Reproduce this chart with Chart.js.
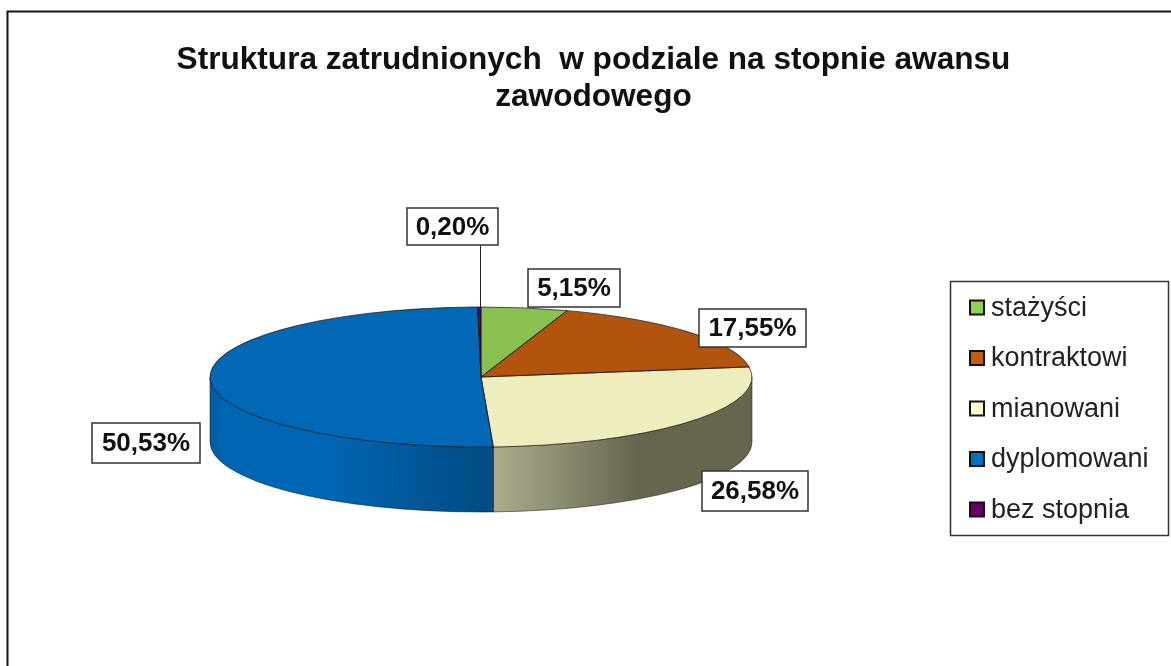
<!DOCTYPE html>
<html lang="pl">
<head>
<meta charset="utf-8">
<title>Struktura zatrudnionych</title>
<script src="https://cdn.jsdelivr.net/npm/chart.js@4/dist/chart.umd.min.js"></script>
<style>
    html, body { margin: 0; padding: 0; background: #fff; }
    canvas { display: block; }
</style>
</head>
<body>
<canvas id="wykres" width="1171" height="666"></canvas>
<script>
const categories = ['stażyści', 'kontraktowi', 'mianowani', 'dyplomowani', 'bez stopnia'];
const values = [5.15, 17.55, 26.58, 50.53, 0.20];
const titleLines = ['Struktura zatrudnionych  w podziale na stopnie awansu', 'zawodowego'];

const topColors = ['#8ac04f', '#b3540e', '#eeedbe', '#0068b4', '#660066'];
const legendColors = ['#92d050', '#c55a11', '#ffffcc', '#0070c0', '#660066'];

// geometria "plaskiego" kola na ekranie
const CX = 481, CY = 377, RX = 271, RY = 70, DEPTH = 65;
const FONT = '"Liberation Sans", Arial, sans-serif';

// srodki ramek z etykietami (kolejnosc jak categories)
const labelBoxes = [
    { x: 574, y: 288, w: 92, h: 38 },
    { x: 752.5, y: 328, w: 107, h: 38 },
    { x: 755, y: 491, w: 106, h: 40 },
    { x: 146, y: 443, w: 108, h: 40 },
    { x: 452.5, y: 226.5, w: 91, h: 37 }
];

function wallGradient(ctx, index) {
    const g = ctx.createLinearGradient(CX - RX, 0, CX + RX, 0);
    if (index === 3) {
        g.addColorStop(0, '#005c9f');
        g.addColorStop(0.03, '#0066b3');
        g.addColorStop(0.22, '#0066b3');
        g.addColorStop(0.526, '#004a80');
        g.addColorStop(1, '#004a80');
    } else {
        g.addColorStop(0, '#abab8b');
        g.addColorStop(0.526, '#abab8b');
        g.addColorStop(0.79, '#666650');
        g.addColorStop(1, '#66664f');
    }
    return g;
}

const pie3d = {
    id: 'pie3d',
    afterLayout(chart) {
        // tytul jest lekko przesuniety w prawo wzgledem srodka
        const t = chart.titleBlock;
        t.left += 8; t.right += 8;
        t.top = 41.5;
    },
    beforeDraw(chart) {
        const ctx = chart.ctx;
        ctx.save();
        ctx.strokeStyle = '#111';
        ctx.lineWidth = 2;
        ctx.beginPath();
        ctx.moveTo(7.5, 666);
        ctx.lineTo(7.5, 11.5);
        ctx.lineTo(1171, 11.5);
        ctx.stroke();
        ctx.restore();
    },
    beforeDatasetsDraw(chart) {
        const ctx = chart.ctx;
        const arcs = chart.getDatasetMeta(0).data;
        // bok walca
        arcs.forEach((arc, i) => {
            const a0 = Math.max(arc.startAngle, 0);
            const a1 = Math.min(arc.endAngle, Math.PI);
            if (a1 <= a0) return;
            ctx.beginPath();
            ctx.ellipse(CX, CY, RX, RY, 0, a0, a1);
            ctx.ellipse(CX, CY + DEPTH, RX, RY, 0, a1, a0, true);
            ctx.closePath();
            ctx.fillStyle = wallGradient(ctx, i);
            ctx.fill();
            ctx.strokeStyle = 'rgba(30,30,25,0.55)';
            ctx.lineWidth = 1;
            ctx.stroke();
        });
        // wierzch: splaszczamy luki biblioteki do elipsy
        ctx.save();
        ctx.translate(CX, CY);
        ctx.scale(1, RY / RX);
        ctx.translate(-arcs[0].x, -arcs[0].y);
    },
    afterDatasetsDraw(chart) {
        const ctx = chart.ctx;
        const arcs = chart.getDatasetMeta(0).data;
        ctx.restore();

        // obrysy wycinkow, grubosc juz bez skalowania
        ctx.strokeStyle = 'rgba(20,20,15,0.7)';
        ctx.lineWidth = 1;
        arcs.forEach(arc => {
            ctx.beginPath();
            ctx.moveTo(CX, CY);
            ctx.ellipse(CX, CY, RX, RY, 0, arc.startAngle, arc.endAngle);
            ctx.closePath();
            ctx.stroke();
        });

        drawLabels(ctx);
        drawLegend(ctx);
    }
};

function drawLabels(ctx) {
    ctx.save();
    // linia odniesienia do 0,20%
    ctx.strokeStyle = '#222';
    ctx.lineWidth = 1;
    ctx.beginPath();
    ctx.moveTo(480.5, 245);
    ctx.lineTo(480.5, 307);
    ctx.stroke();

    ctx.font = 'bold 26px ' + FONT;
    ctx.textAlign = 'center';
    ctx.textBaseline = 'middle';
    values.forEach((v, i) => {
        const b = labelBoxes[i];
        ctx.fillStyle = '#fff';
        ctx.fillRect(b.x - b.w / 2, b.y - b.h / 2, b.w, b.h);
        ctx.strokeStyle = '#333';
        ctx.lineWidth = 1.5;
        ctx.strokeRect(b.x - b.w / 2, b.y - b.h / 2, b.w, b.h);
        ctx.fillStyle = '#111';
        ctx.fillText(v.toFixed(2).replace('.', ',') + '%', b.x, b.y + 1);
    });
    ctx.restore();
}

function drawLegend(ctx) {
    ctx.save();
    ctx.fillStyle = '#fff';
    ctx.fillRect(950.5, 281.5, 218, 254);
    ctx.strokeStyle = '#333';
    ctx.lineWidth = 1.5;
    ctx.strokeRect(950.5, 281.5, 218, 254);

    ctx.font = '27px ' + FONT;
    ctx.textAlign = 'left';
    ctx.textBaseline = 'middle';
    categories.forEach((name, i) => {
        const y = 307.5 + i * 50.5;
        ctx.fillStyle = legendColors[i];
        ctx.fillRect(970, y - 7, 14, 14);
        ctx.strokeStyle = '#111';
        ctx.lineWidth = 2;
        ctx.strokeRect(970, y - 7, 14, 14);
        ctx.fillStyle = '#222';
        ctx.fillText(name, 991, y + 1);
    });
    ctx.restore();
}

new Chart(document.getElementById('wykres').getContext('2d'), {
    type: 'pie',
    data: {
        labels: categories,
        datasets: [{
            data: values,
            backgroundColor: topColors,
            borderWidth: 0,
            radius: RX,
            clip: false
        }]
    },
    options: {
        responsive: false,
        animation: false,
        plugins: {
            legend: { display: false },
            tooltip: { enabled: false },
            title: {
                display: true,
                text: titleLines,
                color: '#111',
                padding: 0,
                font: { family: FONT, size: 31.6, weight: 'bold', lineHeight: 1.17 }
            }
        }
    },
    plugins: [pie3d]
});
</script>
</body>
</html>
